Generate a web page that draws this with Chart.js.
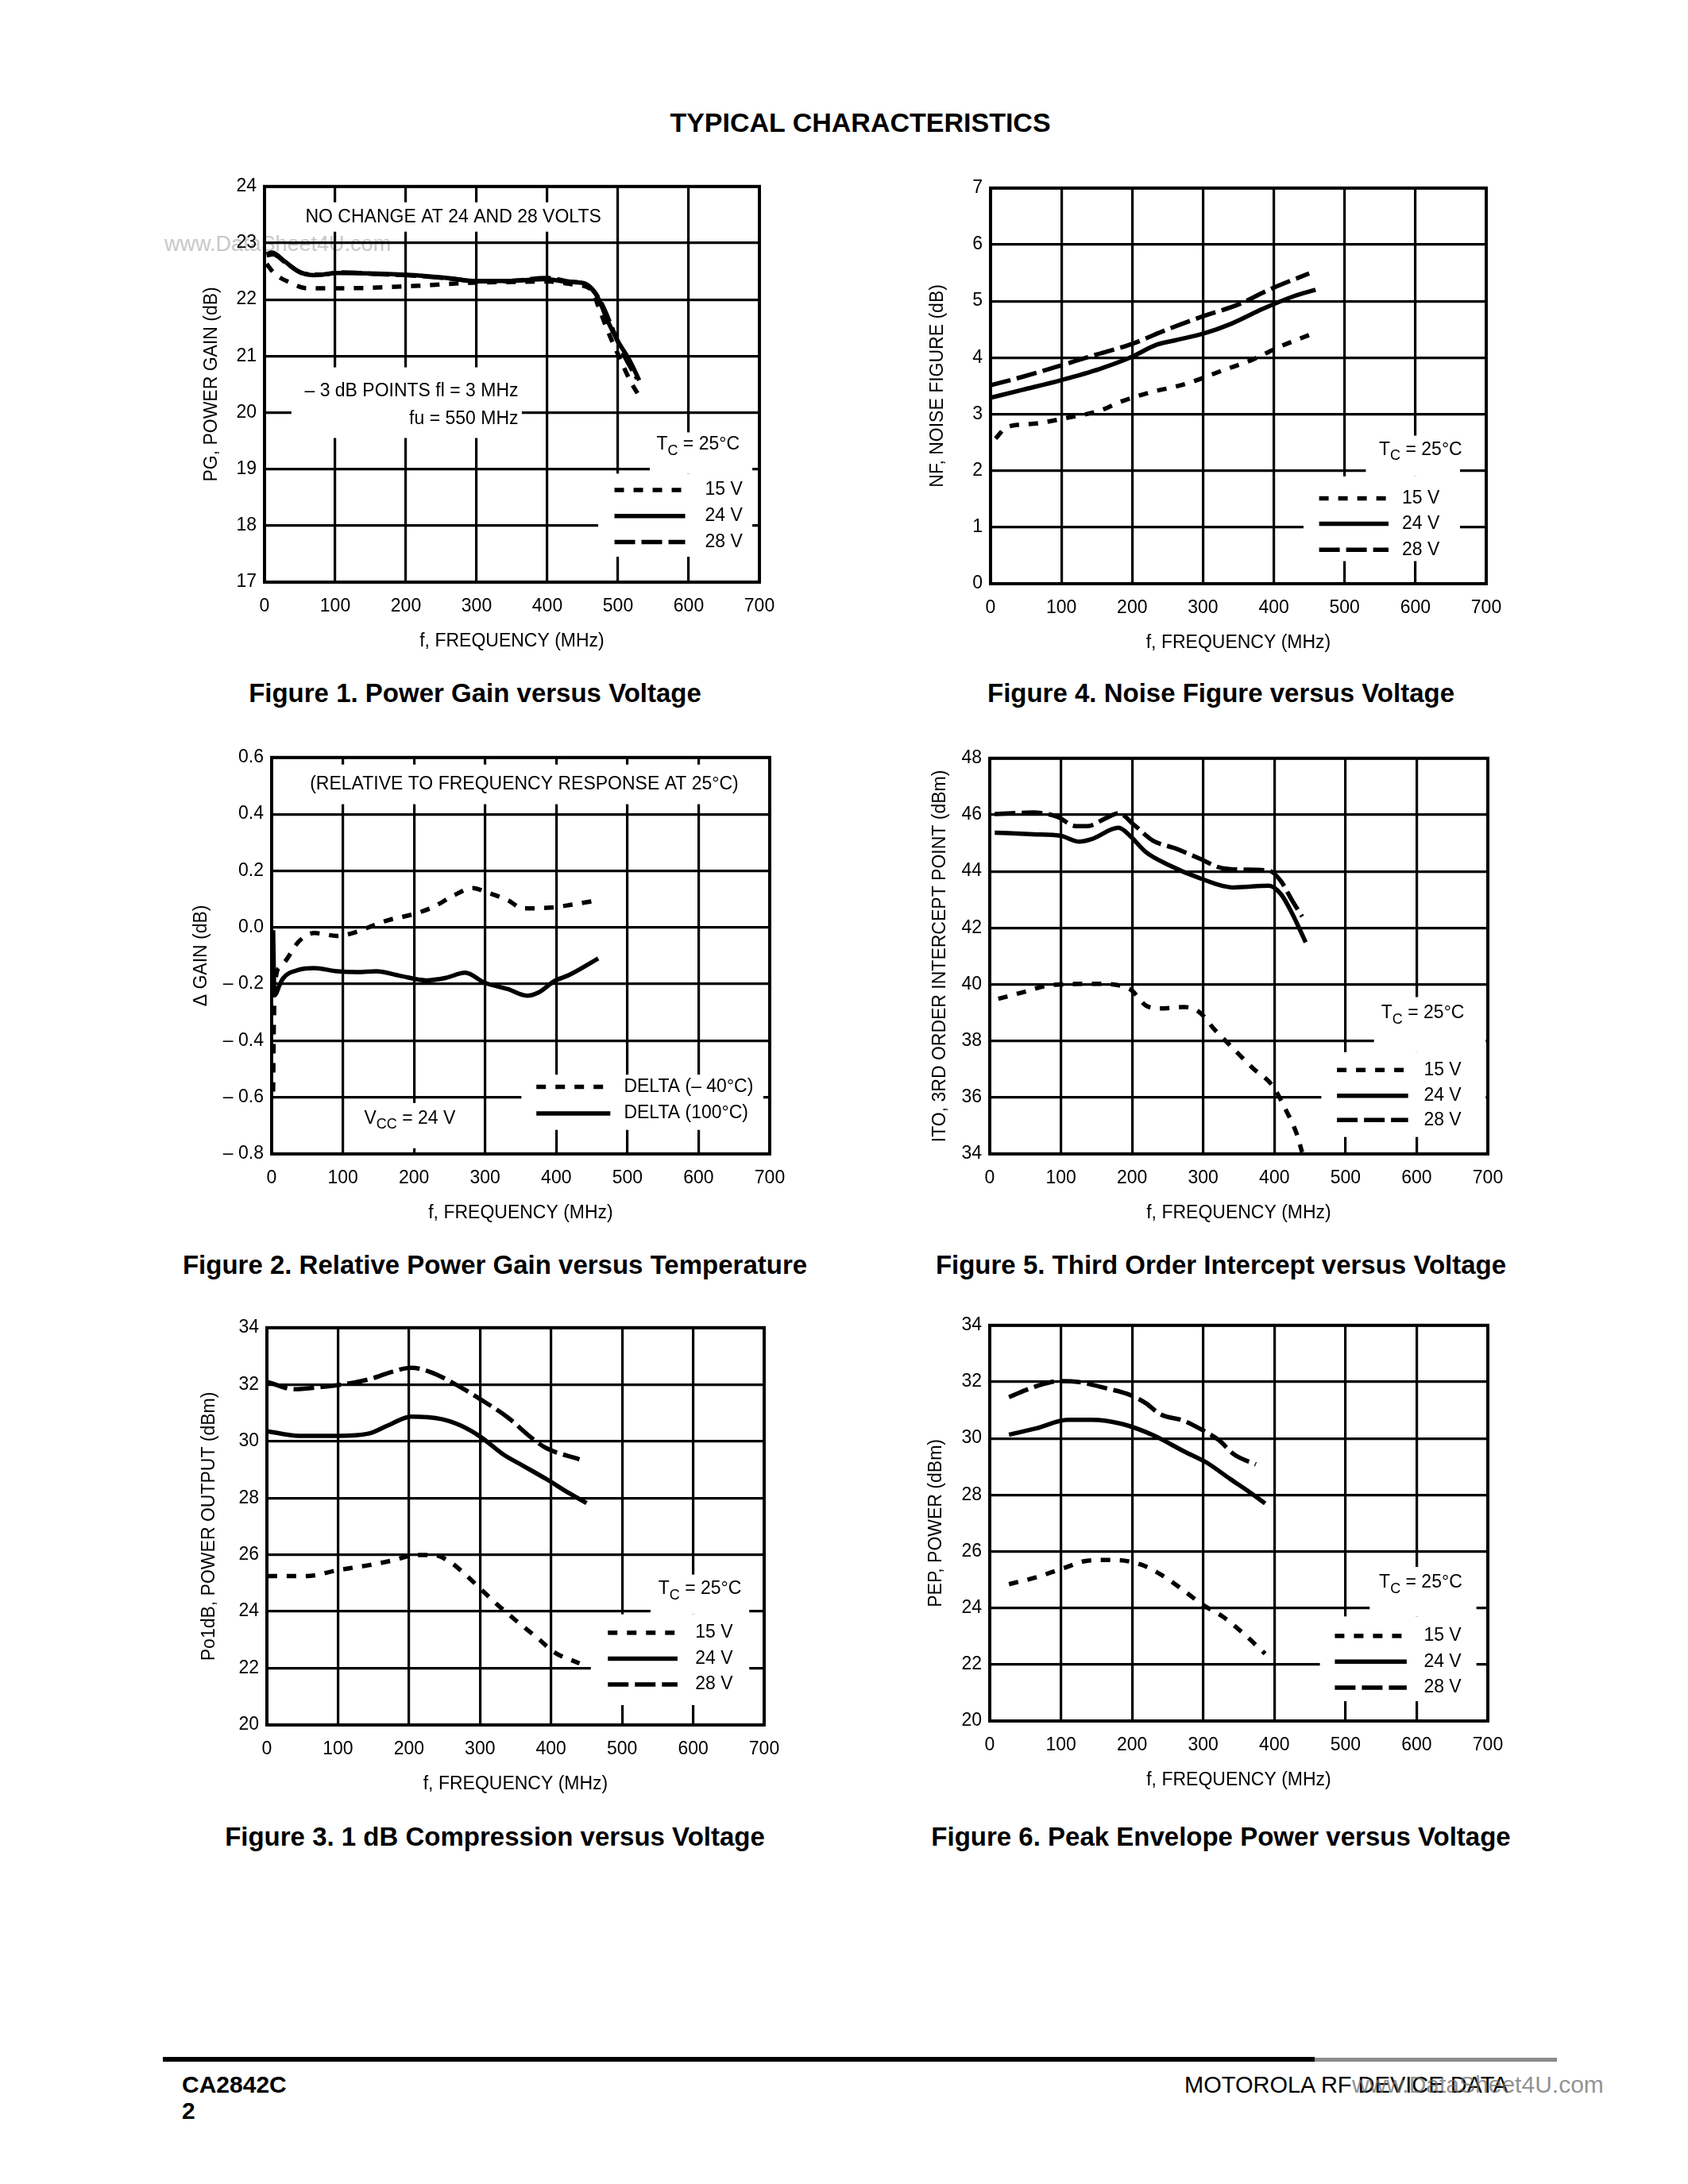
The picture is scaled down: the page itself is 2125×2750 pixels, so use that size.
<!DOCTYPE html>
<html>
<head>
<meta charset="utf-8">
<script src="https://cdn.jsdelivr.net/npm/chart.js@4.4.1/dist/chart.umd.min.js"></script>
<style>
  body { margin: 0; background: #fff; }
  #page { position: relative; width: 2125px; height: 2750px; background: #fff; overflow: hidden; }
  #page canvas { position: absolute; }
  .txt { position: absolute; white-space: nowrap; font-family: 'Liberation Sans', Arial, Helvetica, sans-serif; color: #000; }
  .cap { font-weight: bold; font-size: 33px; line-height: 33px; transform: translateX(-50%); }
</style>
</head>
<body>
<div id="page">
  <div class="txt cap" style="left:1083px; top:138px; font-size:34px;">TYPICAL CHARACTERISTICS</div>
  <div class="txt" style="left:207px; top:294px; font-size:27px; line-height:27px; color:#c8c8c8;">www.DataSheet4U.com</div>

  <canvas id="fig1"></canvas>
  <canvas id="fig4"></canvas>
  <canvas id="fig2"></canvas>
  <canvas id="fig5"></canvas>
  <canvas id="fig3"></canvas>
  <canvas id="fig6"></canvas>

  <div class="txt cap" style="left:598px; top:856px;">Figure 1. Power Gain versus Voltage</div>
  <div class="txt cap" style="left:1537px; top:856px;">Figure 4. Noise Figure versus Voltage</div>
  <div class="txt cap" style="left:623px; top:1576px;">Figure 2. Relative Power Gain versus Temperature</div>
  <div class="txt cap" style="left:1537px; top:1576px;">Figure 5. Third Order Intercept versus Voltage</div>
  <div class="txt cap" style="left:623px; top:2296px;">Figure 3. 1 dB Compression versus Voltage</div>
  <div class="txt cap" style="left:1537px; top:2296px;">Figure 6. Peak Envelope Power versus Voltage</div>

  <div style="position:absolute; left:205px; top:2590px; width:1450px; height:6px; background:#000;"></div>
  <div style="position:absolute; left:1655px; top:2591px; width:305px; height:5px; background:#8c8c8c;"></div>
  <div class="txt" style="left:229px; top:2610px; font-size:30px; line-height:30px; font-weight:bold;">CA2842C</div>
  <div class="txt" style="left:229px; top:2643px; font-size:30px; line-height:30px; font-weight:bold;">2</div>
  <div class="txt" style="left:1491px; top:2611px; font-size:29px; line-height:29px;">MOTOROLA RF DEVICE DATA</div>
  <div class="txt" style="left:1702px; top:2610px; font-size:30px; line-height:30px; color:rgba(110,110,110,0.75);">www.DataSheet4U.com</div>
</div>

<script>
// values (MHz / dB / dBm)

// Figure 1 - power gain
const fig1Freq15 = [3, 14, 38, 60, 114, 212, 266, 300, 350, 400, 440, 462, 473, 484, 500, 517, 530];
const fig1Gain15 = [22.63, 22.46, 22.29, 22.2, 22.2, 22.24, 22.28, 22.3, 22.31, 22.32, 22.26, 22.18, 21.85, 21.49, 21.03, 20.57, 20.29];
const fig1Freq24 = [3, 11, 27, 49, 71, 103, 158, 212, 266, 294, 348, 397, 430, 451, 462, 473, 484, 500, 517, 530];
const fig1Gain24 = [22.8, 22.83, 22.69, 22.49, 22.43, 22.47, 22.46, 22.43, 22.37, 22.33, 22.33, 22.36, 22.31, 22.29, 22.2, 22.0, 21.66, 21.26, 20.91, 20.57];
const fig1Freq28 = [3, 12, 30, 55, 80, 110, 160, 215, 270, 300, 350, 400, 430, 455, 466, 478, 490, 505, 520, 527];
const fig1Gain28 = [22.78, 22.8, 22.65, 22.46, 22.44, 22.48, 22.45, 22.42, 22.36, 22.32, 22.33, 22.38, 22.32, 22.27, 22.15, 21.9, 21.55, 21.1, 20.75, 20.6];

// Figure 4 - noise figure
const fig4Freq15 = [7, 23, 61, 110, 154, 186, 230, 262, 284, 327, 371, 404, 450];
const fig4Nf15 = [2.57, 2.77, 2.83, 2.94, 3.06, 3.23, 3.4, 3.49, 3.57, 3.77, 3.97, 4.17, 4.4];
const fig4Freq24 = [0, 45, 99, 154, 197, 235, 262, 302, 340, 384, 429, 459];
const fig4Nf24 = [3.29, 3.43, 3.6, 3.8, 4.0, 4.23, 4.31, 4.43, 4.6, 4.86, 5.09, 5.2];
const fig4Freq28 = [0, 45, 99, 143, 197, 252, 302, 350, 393, 450];
const fig4Nf28 = [3.51, 3.66, 3.86, 4.03, 4.23, 4.51, 4.74, 4.94, 5.2, 5.49];

// Figure 2 - delta gain vs temperature
const fig2FreqCold = [2, 3, 5, 11, 19, 38, 60, 92, 114, 136, 163, 201, 228, 256, 283, 302, 332, 353, 392, 419, 459];
const fig2DeltaCold = [-0.58, -0.35, -0.2, -0.14, -0.12, -0.05, -0.02, -0.03, -0.02, 0.0, 0.025, 0.048, 0.073, 0.113, 0.139, 0.124, 0.096, 0.067, 0.07, 0.079, 0.096];
const fig2FreqHot = [2, 4, 7, 10, 16, 38, 60, 92, 120, 147, 179, 217, 245, 272, 299, 332, 359, 375, 397, 419, 459];
const fig2DeltaHot = [-0.01, -0.24, -0.23, -0.21, -0.18, -0.15, -0.144, -0.155, -0.158, -0.155, -0.17, -0.187, -0.178, -0.16, -0.195, -0.218, -0.241, -0.23, -0.19, -0.167, -0.11];
const fig2YTickText = ['\u2013 0.8', '\u2013 0.6', '\u2013 0.4', '\u2013 0.2', '0.0', '0.2', '0.4', '0.6'];

// Figure 5 - third order intercept
const fig5Freq15 = [12, 45, 88, 153, 197, 219, 240, 273, 294, 316, 343, 370, 398, 414, 431, 439];
const fig5Ito15 = [39.49, 39.71, 39.98, 40.02, 39.83, 39.26, 39.15, 39.2, 39.03, 38.4, 37.71, 37.03, 36.4, 35.66, 34.74, 34.06];
const fig5Freq24 = [7, 61, 99, 126, 143, 181, 197, 219, 251, 294, 343, 392, 409, 425, 444];
const fig5Ito24 = [45.37, 45.31, 45.26, 45.05, 45.14, 45.54, 45.26, 44.69, 44.23, 43.77, 43.43, 43.49, 43.2, 42.51, 41.49];
const fig5Freq28 = [7, 61, 94, 121, 137, 164, 181, 202, 229, 262, 294, 327, 360, 393, 409, 425, 439];
const fig5Ito28 = [46.03, 46.08, 45.94, 45.6, 45.6, 45.89, 46.06, 45.66, 45.09, 44.8, 44.46, 44.11, 44.06, 44.02, 43.66, 42.97, 42.4];

// Figure 3 - 1 dB compression
const fig3Freq15 = [1, 56, 99, 143, 181, 208, 235, 257, 279, 301, 328, 355, 383, 404, 440];
const fig3P15 = [25.25, 25.25, 25.45, 25.63, 25.82, 25.99, 25.99, 25.76, 25.31, 24.79, 24.16, 23.59, 23.02, 22.57, 22.17];
const fig3Freq24 = [1, 45, 99, 143, 170, 203, 246, 273, 301, 333, 361, 393, 426, 450];
const fig3P24 = [30.35, 30.19, 30.19, 30.27, 30.55, 30.87, 30.78, 30.55, 30.15, 29.53, 29.13, 28.67, 28.16, 27.82];
const fig3Freq28 = [1, 39, 72, 121, 148, 175, 203, 230, 263, 301, 339, 371, 393, 440];
const fig3P28 = [32.09, 31.83, 31.9, 32.06, 32.21, 32.44, 32.59, 32.44, 32.04, 31.47, 30.84, 30.15, 29.76, 29.36];

// Figure 6 - peak envelope power
const fig6Freq15 = [27, 66, 104, 137, 175, 213, 240, 273, 300, 327, 355, 387];
const fig6P15 = [24.84, 25.09, 25.41, 25.67, 25.7, 25.53, 25.19, 24.61, 24.1, 23.7, 23.13, 22.38];
const fig6Freq24 = [27, 66, 110, 143, 186, 230, 273, 305, 338, 365, 387];
const fig6P24 = [30.13, 30.36, 30.66, 30.66, 30.51, 30.11, 29.54, 29.14, 28.56, 28.1, 27.7];
const fig6Freq28 = [27, 66, 99, 126, 164, 197, 219, 240, 273, 300, 322, 344, 374];
const fig6P28 = [31.46, 31.85, 32.03, 31.99, 31.77, 31.54, 31.25, 30.85, 30.62, 30.28, 29.94, 29.42, 29.08];

const freqTicks = [0, 100, 200, 300, 400, 500, 600, 700];
const voltLabels = ['15 V', '24 V', '28 V'];
const tempLabels = ['DELTA (\u2013 40\u00B0C)', 'DELTA (100\u00B0C)'];

const FONT = "'Liberation Sans', Arial, Helvetica, sans-serif";
const DOTS = [12, 12];
const DASH = [26, 8];
const Y_AXIS_W = 130, X_AXIS_H = 95, PAD_TOP = 20, PAD_RIGHT = 40;

const pts = (xs, ys) => xs.map((x, i) => ({ x: x, y: ys[i] }));

const line = (label, xs, ys, dash) => ({
  label: label,
  data: pts(xs, ys),
  borderColor: '#000',
  borderWidth: 5.5,
  borderDash: dash || [],
  pointRadius: 0,
  fill: false,
  cubicInterpolationMode: 'monotone'
});

// draws text made of normal + subscript parts
function drawParts(ctx, parts, x, y, align) {
  const main = '23px ' + FONT, sub = '18px ' + FONT;
  let total = 0;
  parts.forEach(p => { ctx.font = p.sub ? sub : main; total += ctx.measureText(p.t).width; });
  let cx = align === 'right' ? x - total : align === 'center' ? x - total / 2 : x;
  ctx.textAlign = 'left';
  ctx.textBaseline = 'middle';
  parts.forEach(p => {
    ctx.font = p.sub ? sub : main;
    ctx.fillText(p.t, cx, p.sub ? y + 8 : y);
    cx += ctx.measureText(p.t).width;
  });
}

// white patches, frame, notes and in-plot legend
const notesPlugin = notes => ({
  id: 'notes',
  afterDatasetsDraw(chart) {
    const { ctx, chartArea: a } = chart;
    const sx = chart.scales.x, sy = chart.scales.y;
    const px = v => sx.getPixelForValue(v), py = v => sy.getPixelForValue(v);
    ctx.save();
    ctx.fillStyle = '#fff';
    notes.boxes.forEach(b => {
      ctx.fillRect(px(b[0]), py(b[3]), px(b[1]) - px(b[0]), py(b[2]) - py(b[3]));
    });
    ctx.strokeStyle = '#000';
    ctx.lineWidth = 4;
    ctx.setLineDash([]);
    ctx.strokeRect(a.left, a.top, a.right - a.left, a.bottom - a.top);

    ctx.fillStyle = '#000';
    notes.texts.forEach(t => drawParts(ctx, t.parts, px(t.x), py(t.y), t.align));

    const lg = notes.legend;
    chart.data.datasets.forEach((ds, i) => {
      const yy = py(lg.rows[i]);
      ctx.beginPath();
      ctx.setLineDash(ds.borderDash);
      ctx.lineWidth = 5.5;
      ctx.moveTo(px(lg.x0), yy);
      ctx.lineTo(px(lg.x1), yy);
      ctx.stroke();
      ctx.setLineDash([]);
      drawParts(ctx, [{ t: ds.label }], px(lg.tx), yy, 'left');
    });
    ctx.restore();
  }
});

const tc = (x, y) => ({ x: x, y: y, align: 'right', parts: [{ t: 'T' }, { t: 'C', sub: true }, { t: ' = 25\u00B0C' }] });

function makeChart(id, box, yAxis, datasets, notes) {
  const cv = document.getElementById(id);
  cv.style.left = (box.left - Y_AXIS_W) + 'px';
  cv.style.top = (box.top - PAD_TOP) + 'px';
  cv.width = Y_AXIS_W + box.w + PAD_RIGHT;
  cv.height = PAD_TOP + box.h + X_AXIS_H;

  const tickFont = { family: FONT, size: 23 };
  const grid = { color: '#000', lineWidth: 3.2, drawTicks: false };
  const border = { display: true, color: '#000', width: 4 };

  return new Chart(cv, {
    type: 'line',
    data: { datasets: datasets },
    options: {
      responsive: false,
      animation: false,
      devicePixelRatio: 1,
      events: [],
      layout: { padding: { top: PAD_TOP, right: PAD_RIGHT, left: 0, bottom: 0 } },
      plugins: { legend: { display: false }, tooltip: { enabled: false } },
      scales: {
        x: {
          type: 'linear',
          min: 0,
          max: 700,
          afterBuildTicks: s => { s.ticks = freqTicks.map(v => ({ value: v })); },
          ticks: { color: '#000', font: tickFont, padding: 17, maxRotation: 0 },
          grid: grid,
          border: border,
          title: { display: true, text: 'f, FREQUENCY (MHz)', color: '#000', font: tickFont, padding: { top: 0, bottom: 7 } },
          afterFit: s => { s.height = X_AXIS_H; }
        },
        y: {
          type: 'linear',
          min: yAxis.min,
          max: yAxis.max,
          ticks: {
            stepSize: yAxis.step,
            color: '#000',
            font: tickFont,
            padding: 10,
            callback: yAxis.labels ? (v, i) => yAxis.labels[i] : v => v
          },
          grid: grid,
          border: border,
          title: { display: true, text: yAxis.title, color: '#000', font: tickFont, padding: { top: Y_AXIS_W - yAxis.titleOff - 13.8, bottom: 0 } },
          afterFit: s => { s.width = Y_AXIS_W; }
        }
      }
    },
    plugins: [notesPlugin(notes)]
  });
}

makeChart('fig1', { left: 333, top: 231, w: 623, h: 502 },
  { min: 17, max: 24, step: 1, title: 'PG, POWER GAIN (dB)', titleOff: 66 },
  [line(voltLabels[0], fig1Freq15, fig1Gain15, DOTS), line(voltLabels[1], fig1Freq24, fig1Gain24), line(voltLabels[2], fig1Freq28, fig1Gain28, DASH)],
  {
    boxes: [[45, 480, 23.2, 23.72], [38, 364, 19.55, 20.8], [545, 690, 18.92, 19.65], [472, 690, 17.45, 18.92]],
    texts: [
      { x: 267, y: 23.46, align: 'center', parts: [{ t: 'NO CHANGE AT 24 AND 28 VOLTS' }] },
      { x: 359, y: 20.37, align: 'right', parts: [{ t: '\u2013 3 dB POINTS fl = 3 MHz' }] },
      { x: 359, y: 19.89, align: 'right', parts: [{ t: 'fu = 550 MHz' }] },
      tc(672, 19.43)
    ],
    legend: { x0: 495, x1: 595, tx: 623, rows: [18.63, 18.17, 17.71] }
  });

makeChart('fig4', { left: 1247, top: 233, w: 624, h: 502 },
  { min: 0, max: 7, step: 1, title: 'NF, NOISE FIGURE (dB)', titleOff: 66 },
  [line(voltLabels[0], fig4Freq15, fig4Nf15, DOTS), line(voltLabels[1], fig4Freq24, fig4Nf24), line(voltLabels[2], fig4Freq28, fig4Nf28, DASH)],
  {
    boxes: [[530, 663, 1.9, 2.62], [442, 663, 0.4, 1.9]],
    texts: [tc(666, 2.37)],
    legend: { x0: 464, x1: 562, tx: 581, rows: [1.51, 1.06, 0.6] }
  });

makeChart('fig2', { left: 342, top: 950, w: 627, h: 503 },
  { min: -0.8, max: 0.6, step: 0.2, title: '\u0394 GAIN (dB)', titleOff: 88, labels: fig2YTickText },
  [line(tempLabels[0], fig2FreqCold, fig2DeltaCold, DOTS), line(tempLabels[1], fig2FreqHot, fig2DeltaHot)],
  {
    boxes: [[50, 660, 0.435, 0.575], [351, 691, -0.715, -0.52], [125, 272, -0.78, -0.62]],
    texts: [
      { x: 355, y: 0.506, align: 'center', parts: [{ t: '(RELATIVE TO FREQUENCY RESPONSE AT 25\u00B0C)' }] },
      { x: 130, y: -0.675, align: 'left', parts: [{ t: 'V' }, { t: 'CC', sub: true }, { t: ' = 24 V' }] }
    ],
    legend: { x0: 372, x1: 476, tx: 495, rows: [-0.563, -0.657] }
  });

makeChart('fig5', { left: 1246, top: 951, w: 627, h: 502 },
  { min: 34, max: 48, step: 2, title: 'ITO, 3RD ORDER INTERCEPT POINT (dBm)', titleOff: 62 },
  [line(voltLabels[0], fig5Freq15, fig5Ito15, DOTS), line(voltLabels[1], fig5Freq24, fig5Ito24), line(voltLabels[2], fig5Freq28, fig5Ito28, DASH)],
  {
    boxes: [[540, 697, 37.6, 39.55], [466, 697, 34.6, 37.6]],
    texts: [tc(667, 38.97)],
    legend: { x0: 488, x1: 588, tx: 610, rows: [36.97, 36.06, 35.2] }
  });

makeChart('fig3', { left: 336, top: 1668, w: 626, h: 504 },
  { min: 20, max: 34, step: 2, title: 'Po1dB, POWER OUTPUT (dBm)', titleOff: 72 },
  [line(voltLabels[0], fig3Freq15, fig3P15, DOTS), line(voltLabels[1], fig3Freq24, fig3P24), line(voltLabels[2], fig3Freq28, fig3P28, DASH)],
  {
    boxes: [[540, 679, 23.9, 25.3], [456, 679, 20.7, 23.9]],
    texts: [tc(668, 24.79)],
    legend: { x0: 480, x1: 578, tx: 603, rows: [23.25, 22.34, 21.43] }
  });

makeChart('fig6', { left: 1246, top: 1665, w: 627, h: 502 },
  { min: 20, max: 34, step: 2, title: 'PEP, POWER (dBm)', titleOff: 67 },
  [line(voltLabels[0], fig6Freq15, fig6P15, DOTS), line(voltLabels[1], fig6Freq24, fig6P24), line(voltLabels[2], fig6Freq28, fig6P28, DASH)],
  {
    boxes: [[534, 684, 23.7, 25.45], [464, 684, 20.7, 23.7]],
    texts: [tc(664, 24.9)],
    legend: { x0: 485, x1: 586, tx: 610, rows: [23.01, 22.1, 21.18] }
  });
</script>
</body>
</html>
